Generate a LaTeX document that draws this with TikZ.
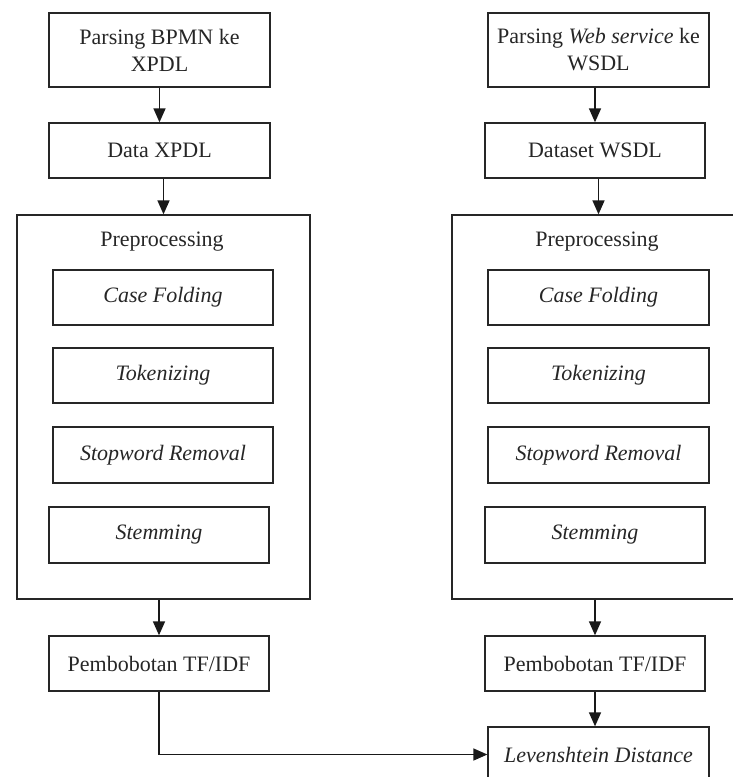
\documentclass[tikz,border=0pt]{standalone}
\usepackage{fontspec}
\setmainfont{Liberation Serif}
\usetikzlibrary{arrows.meta}
\begin{document}
\begin{tikzpicture}[x=1pt,y=-1pt,
  box/.style={draw=black!85, line width=1.3pt, rectangle, inner sep=0pt,
    minimum width=221pt, minimum height=55pt, align=center,
    font=\fontsize{22}{27}\selectfont, text=black!85},
  frame/.style={draw=black!85, line width=1.3pt, rectangle, inner sep=0pt,
    minimum width=293pt, minimum height=384pt},
  lbl/.style={font=\fontsize{22}{27}\selectfont, text=black!85, inner sep=0pt},
  flow/.style={draw=black!90, line width=1.5pt, -{Triangle[length=14pt,width=12pt]}}]
\useasboundingbox (0,0) rectangle (733,777);
\clip (0,0) rectangle (733,777);

% left column: BPMN -> XPDL
\node[box, minimum height=74pt] (p1) at (159.5,50) {Parsing BPMN ke\\XPDL};
\node[box] (d1) at (159.5,150.5) {Data XPDL};
\node[frame] (pre1) at (163.5,407) {};
\node[lbl] (pl1) at (162,242) {Preprocessing};
\node[box, minimum width=220pt] (cf1) at (163,297.5) {\textit{Case Folding}};
\node[box, minimum width=220pt] (tk1) at (163,375.5) {\textit{Tokenizing}};
\node[box, minimum width=220pt, minimum height=56pt] (sw1) at (163,455) {\textit{Stopword Removal}};
\node[box, minimum width=220pt, minimum height=56pt] (st1) at (159,535) {\textit{Stemming}};
\node[box, minimum width=220pt] (tf1) at (159,663.5) {Pembobotan TF/IDF};

% right column: Web service -> WSDL
\node[box, minimum height=74pt] (p2) at (598.5,50) {Parsing \textit{Web service} ke\\WSDL};
\node[box, minimum width=220pt] (d2) at (595,150.5) {Dataset WSDL};
\node[frame] (pre2) at (598.5,407) {};
\node[lbl] (pl2) at (597,242) {Preprocessing};
\node[box] (cf2) at (598.5,297.5) {\textit{Case Folding}};
\node[box] (tk2) at (598.5,375.5) {\textit{Tokenizing}};
\node[box, minimum height=56pt] (sw2) at (598.5,455) {\textit{Stopword Removal}};
\node[box, minimum width=220pt, minimum height=56pt] (st2) at (595,535) {\textit{Stemming}};
\node[box, minimum width=220pt] (tf2) at (595,663.5) {Pembobotan TF/IDF};
\node[box] (lv) at (598.5,754.5) {\textit{Levenshtein Distance}};

% connectors
\draw[flow] (p1.south) -- (d1.north);
\draw[flow] (d1.south -| pre1.north) -- (pre1.north);
\draw[flow] (pre1.south -| tf1.north) -- (tf1.north);
\draw[flow] (tf1.south) |- (lv.west);

\draw[flow] (p2.south -| d2.north) -- (d2.north);
\draw[flow] (d2.south -| pre2.north) -- (pre2.north);
\draw[flow] (pre2.south -| tf2.north) -- (tf2.north);
\draw[flow] (tf2.south) -- (tf2.south |- lv.north);
\end{tikzpicture}
\end{document}
